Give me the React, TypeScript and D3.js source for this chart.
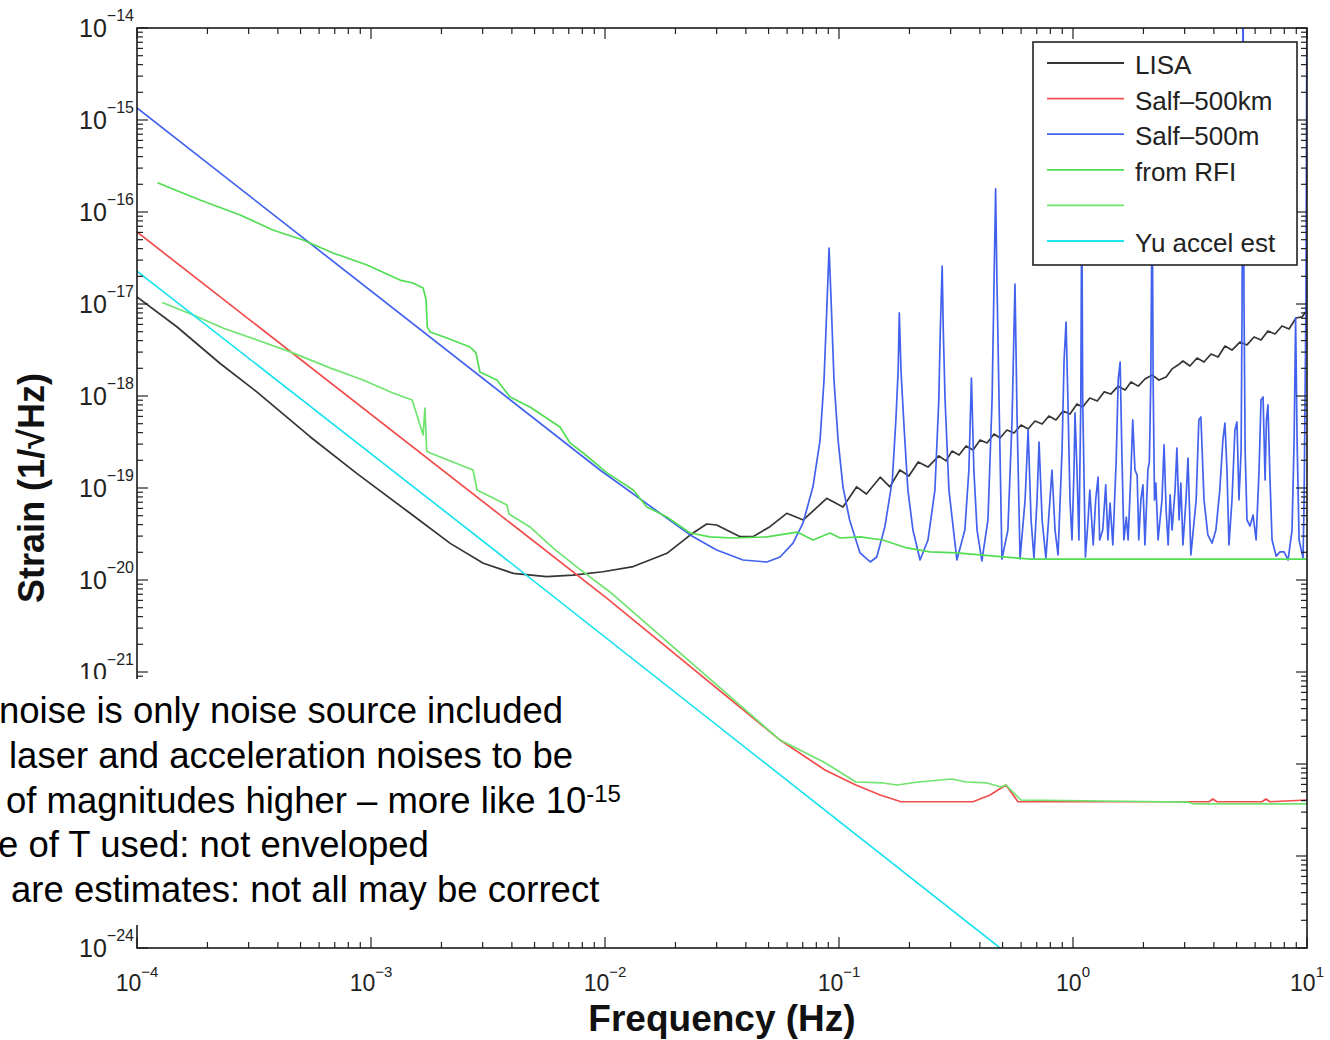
import React from 'react';
import * as d3 from 'd3';

type P = [number, number];

// ---- axis ticks (powers of ten) ----
const xTickExponents = [-4, -3, -2, -1, 0, 1];
// labels for 1e-22 and 1e-23 are hidden under the overlaid note box in the reference
const yTickExponents = [-24, -21, -20, -19, -18, -17, -16, -15, -14];

// ---- series: [frequency (Hz), strain (1/sqrt(Hz))] ----
const lisa: P[] = [
  [1e-4, 1.19e-17], [1.48e-4, 5.66e-18], [2.26e-4, 2.27e-18], [3.25e-4, 1.11e-18],
  [5.49e-4, 3.61e-19], [8.69e-4, 1.44e-19], [1.47e-3, 5.31e-20], [2.18e-3, 2.5e-20],
  [3.02e-3, 1.52e-20], [4.06e-3, 1.18e-20], [5.63e-3, 1.09e-20], [7.3e-3, 1.13e-20],
  [9.8e-3, 1.23e-20], [1.32e-2, 1.4e-20], [1.84e-2, 1.95e-20], [2.31e-2, 3.08e-20],
  [2.72e-2, 4.06e-20], [3.0e-2, 3.96e-20], [3.78e-2, 2.96e-20], [4.29e-2, 2.96e-20],
  [5.07e-2, 3.8e-20], [5.98e-2, 5.31e-20], [7.04e-2, 4.49e-20], [8.86e-2, 7.73e-20],
  [0.104, 6.2e-20], [0.119, 1.03e-19], [0.131, 8.6e-20], [0.15, 1.31e-19],
  [0.165, 1.03e-19], [0.182, 1.57e-19], [0.199, 1.35e-19], [0.218, 1.92e-19],
  [0.24, 1.69e-19], [0.267, 2.23e-19], [0.287, 1.97e-19], [0.304, 2.52e-19],
  [0.326, 2.28e-19], [0.349, 2.86e-19], [0.374, 2.59e-19], [0.401, 3.32e-19],
  [0.429, 3.09e-19], [0.46, 3.86e-19], [0.488, 3.49e-19], [0.522, 4.27e-19],
  [0.56, 3.96e-19], [0.6, 4.84e-19], [0.643, 4.38e-19], [0.688, 5.35e-19],
  [0.738, 4.96e-19], [0.789, 6.06e-19], [0.846, 5.49e-19], [0.906, 6.87e-19],
  [0.971, 6.37e-19], [1.04, 8.19e-19], [1.1, 7.6e-19], [1.18, 9.51e-19],
  [1.27, 8.83e-19], [1.36, 1.11e-18], [1.45, 1.05e-18], [1.56, 1.28e-18],
  [1.67, 1.16e-18], [1.77, 1.42e-18], [1.9, 1.28e-18], [2.03, 1.53e-18],
  [2.18, 1.69e-18], [2.33, 1.49e-18], [2.5, 1.61e-18], [2.65, 1.97e-18],
  [2.81, 2.17e-18], [2.95, 2.4e-18], [3.16, 2.12e-18], [3.39, 2.59e-18],
  [3.63, 2.34e-18], [3.89, 2.86e-18], [4.17, 2.65e-18], [4.46, 3.49e-18],
  [4.78, 3.16e-18], [5.17, 3.86e-18], [5.54, 3.59e-18], [5.94, 4.38e-18],
  [6.36, 4.06e-18], [6.81, 5.09e-18], [7.3, 4.72e-18], [7.82, 5.77e-18],
  [8.38, 5.35e-18], [8.98, 7.05e-18], [9.52, 7.23e-18], [10, 8.61e-18],
];

const salf500km: P[] = [
  [1e-4, 6.06e-17], [1.02e-2, 6.32e-21], [5.6e-2, 1.82e-22], [8.71e-2, 8.61e-23],
  [0.118, 5.91e-23], [0.15, 4.6e-23], [0.184, 3.89e-23], [0.374, 3.89e-23],
  [0.442, 4.6e-23], [0.517, 5.91e-23], [0.582, 3.89e-23], [3.81, 3.89e-23],
  [3.96, 4.17e-23], [4.12, 3.89e-23], [6.42, 3.89e-23], [6.68, 4.17e-23],
  [6.95, 3.89e-23], [10, 4.06e-23],
];

const salf500m: P[] = [
  [1e-4, 1.35e-15], [9.52e-3, 1.57e-19], [2.31e-2, 3.09e-20], [3.0e-2, 2.12e-20],
  [3.89e-2, 1.65e-20], [4.92e-2, 1.57e-20], [5.6e-2, 1.78e-20], [6.36e-2, 2.52e-20],
  [7.02e-2, 4.17e-20], [7.74e-2, 1.03e-19], [8.3e-2, 3.32e-19], [8.63e-2, 1.49e-18],
  [8.9e-2, 1.11e-17], [9.07e-2, 4.06e-17], [9.25e-2, 1.11e-17], [9.52e-2, 1.49e-18],
  [9.91e-2, 3.32e-19], [0.104, 1.03e-19], [0.111, 4.49e-20], [0.123, 1.97e-20],
  [0.136, 1.57e-20], [0.145, 1.78e-20], [0.157, 3.77e-20], [0.169, 1.22e-19],
  [0.175, 5.49e-19], [0.179, 1.92e-18], [0.181, 7.99e-18], [0.184, 1.92e-18],
  [0.19, 4.27e-19], [0.197, 9.51e-20], [0.207, 3.49e-20], [0.222, 1.65e-20],
  [0.24, 2.72e-20], [0.257, 9.51e-20], [0.267, 9.05e-19], [0.271, 5.22e-18],
  [0.276, 2.59e-17], [0.279, 5.22e-18], [0.284, 9.05e-19], [0.295, 9.51e-20],
  [0.319, 1.65e-20], [0.345, 3.49e-20], [0.359, 1.57e-19], [0.368, 1.57e-18],
  [0.377, 1.57e-19], [0.389, 3.49e-20], [0.408, 1.61e-20], [0.433, 4.49e-20],
  [0.451, 9.05e-19], [0.46, 1.82e-17], [0.467, 1.78e-16], [0.473, 1.82e-17],
  [0.483, 9.05e-19], [0.497, 1.69e-20], [0.527, 3.49e-20], [0.549, 5.49e-19],
  [0.565, 1.65e-17], [0.577, 5.49e-19], [0.594, 1.69e-20], [0.624, 7.41e-20],
  [0.643, 4.27e-19], [0.662, 4.49e-20], [0.681, 1.73e-20], [0.702, 7.41e-20],
  [0.716, 3.16e-19], [0.738, 4.49e-20], [0.766, 1.73e-20], [0.797, 7.41e-20],
  [0.813, 1.57e-19], [0.838, 3.49e-20], [0.863, 1.87e-20], [0.898, 2.59e-19],
  [0.916, 2.46e-18], [0.934, 6.37e-18], [0.951, 9.05e-19], [0.971, 7.41e-20],
  [0.99, 2.72e-20], [1.01, 1.57e-19], [1.02, 6.54e-19], [1.04, 1.57e-19],
  [1.06, 2.72e-20], [1.08, 9.05e-19], [1.09, 2.0e-16], [1.1, 9.05e-19],
  [1.13, 1.78e-20], [1.16, 4.49e-20], [1.18, 9.51e-20], [1.22, 2.4e-20],
  [1.25, 7.41e-20], [1.28, 1.31e-19], [1.3, 2.72e-20], [1.34, 3.49e-20],
  [1.38, 1.08e-19], [1.41, 2.72e-20], [1.44, 6.87e-20], [1.48, 2.4e-20],
  [1.53, 2.02e-19], [1.56, 1.49e-18], [1.59, 2.34e-18], [1.62, 2.02e-19],
  [1.65, 2.72e-20], [1.69, 4.84e-20], [1.72, 2.72e-20], [1.77, 1.57e-19],
  [1.8, 5.49e-19], [1.84, 1.57e-19], [1.88, 1.38e-19], [1.91, 2.72e-20],
  [1.95, 7.41e-20], [1.99, 1.08e-19], [2.03, 2.4e-20], [2.09, 1.57e-19],
  [2.12, 1.92e-19], [2.15, 1.49e-18], [2.18, 2.0e-16], [2.2, 1.49e-18],
  [2.23, 7.41e-20], [2.26, 1.13e-19], [2.31, 2.72e-20], [2.4, 7.41e-20],
  [2.45, 2.94e-19], [2.5, 5.77e-20], [2.55, 2.4e-20], [2.6, 8.41e-20],
  [2.65, 3.49e-20], [2.73, 9.51e-20], [2.78, 2.72e-19], [2.84, 4.49e-20],
  [2.89, 1.13e-19], [2.95, 2.4e-20], [3.04, 7.41e-20], [3.1, 2.12e-19],
  [3.19, 1.87e-20], [3.36, 7.41e-20], [3.45, 5.49e-19], [3.52, 5.91e-19],
  [3.63, 7.41e-20], [3.77, 3.09e-20], [3.93, 2.52e-20], [4.08, 3.49e-20],
  [4.24, 9.51e-20], [4.37, 3.32e-19], [4.46, 5.09e-19], [4.55, 1.57e-19],
  [4.64, 2.4e-20], [4.78, 7.41e-20], [4.92, 4.27e-19], [5.02, 5.22e-19],
  [5.12, 7.41e-20], [5.23, 2.59e-19], [5.28, 1.11e-17], [5.33, 3e-14],
  [5.38, 1.11e-17], [5.44, 2.59e-19], [5.54, 4.49e-20], [5.71, 3.86e-20],
  [5.88, 5.09e-20], [6.06, 2.72e-20], [6.24, 1.57e-19], [6.36, 9.05e-19],
  [6.49, 9.75e-19], [6.62, 1.22e-19], [6.71, 5.49e-19], [6.81, 7.99e-19],
  [6.95, 1.22e-19], [7.09, 2.72e-20], [7.38, 1.82e-20], [7.67, 2.02e-20],
  [7.98, 2.02e-20], [8.3, 1.65e-20], [8.63, 3.49e-20], [8.81, 3.32e-19],
  [8.94, 7.05e-18], [9.07, 3.32e-19], [9.25, 2.72e-20], [9.62, 1.73e-20],
  [9.72, 7.41e-20], [9.9, 1.11e-17], [10, 3e-14],
];

const rfiUpper: P[] = [
  [1.23e-4, 2.07e-16], [1.86e-4, 1.35e-16], [2.76e-4, 9.28e-17], [3.81e-4, 6.37e-17],
  [5.12e-4, 4.96e-17], [6.88e-4, 3.59e-17], [9.62e-4, 2.65e-17], [1.33e-3, 1.82e-17],
  [1.51e-3, 1.69e-17], [1.67e-3, 1.49e-17], [1.72e-3, 1.11e-17], [1.74e-3, 5.63e-18],
  [1.79e-3, 4.96e-18], [2.11e-3, 4.27e-18], [2.65e-3, 3.41e-18], [2.81e-3, 2.94e-18],
  [2.86e-3, 2.34e-18], [2.92e-3, 1.82e-18], [3.45e-3, 1.49e-18], [3.93e-3, 9.75e-19],
  [4.78e-3, 7.6e-19], [6.42e-3, 4.6e-19], [7.09e-3, 3.09e-19], [8.07e-3, 2.4e-19],
  [1.02e-2, 1.46e-19], [1.32e-2, 9.51e-20], [1.51e-2, 6.22e-20], [1.84e-2, 4.84e-20],
  [2.31e-2, 3.24e-20], [2.81e-2, 2.94e-20], [3.52e-2, 2.86e-20], [4.92e-2, 2.94e-20],
  [6.62e-2, 3.32e-20], [7.74e-2, 2.72e-20], [9.16e-2, 3.24e-20], [0.101, 2.86e-20],
  [0.123, 2.94e-20], [0.154, 2.72e-20], [0.195, 2.23e-20], [0.245, 2.02e-20],
  [0.319, 1.97e-20], [0.655, 1.69e-20], [10, 1.69e-20],
];

const rfiLower: P[] = [
  [1.29e-4, 1.03e-17], [1.74e-4, 7.6e-18], [2.33e-4, 5.49e-18], [3.26e-4, 4.06e-18],
  [4.64e-4, 2.94e-18], [6.68e-4, 2.02e-18], [9.25e-4, 1.49e-18], [1.24e-3, 1.08e-18],
  [1.5e-3, 9.05e-19], [1.67e-3, 3.77e-19], [1.7e-3, 7.41e-19], [1.73e-3, 2.52e-19],
  [1.79e-3, 2.4e-19], [2.73e-3, 1.57e-19], [2.84e-3, 9.51e-20], [3.81e-3, 6.54e-20],
  [3.89e-3, 5.22e-20], [4.78e-3, 3.77e-20], [5.99e-3, 2.23e-20], [7.59e-3, 1.38e-20],
  [1.05e-2, 7.41e-21], [5.6e-2, 1.82e-22], [8.72e-2, 1.03e-22], [0.118, 6.37e-23],
  [0.154, 6.22e-23], [0.177, 5.91e-23], [0.218, 6.37e-23], [0.304, 6.87e-23],
  [0.349, 6.37e-23], [0.429, 6.22e-23], [0.492, 5.63e-23], [0.517, 5.91e-23],
  [0.599, 4.06e-23], [3.07, 3.86e-23], [3.29, 3.68e-23], [10, 3.68e-23],
];

const yuAccel: P[] = [
  [1e-4, 2.28e-17], [3.23e-3, 2.3e-20], [0.488, 1e-24],
];

const seriesColors = ['#353535', '#f24c4c', '#4262ee', '#52de52', '#6fe46f', '#1fe3ee'];
const legendLabels = ['LISA', 'Salf\u2013500km', 'Salf\u2013500m', 'from RFI', '', 'Yu accel est'];

const noteLines = [
  'noise is only noise source included',
  'laser and acceleration noises to be',
  'of magnitudes higher \u2013 more like 10',
  'e of T used: not enveloped',
  'are estimates: not all may be correct',
];
const noteSuperscript = '-15';

const FONT = "'Liberation Sans', Arial, Helvetica, sans-serif";

export default function App() {
  const L = 137, R = 1307, T = 28, B = 948;
  const x = d3.scaleLog().domain([1e-4, 10]).range([L, R]);
  const y = d3.scaleLog().domain([1e-24, 1e-14]).range([B, T]);
  const line = d3.line<P>().x(d => x(d[0])).y(d => y(d[1]));

  const series = [lisa, salf500km, salf500m, rfiUpper, rfiLower, yuAccel];

  const isMajor = (v: number) => Math.abs(Math.log10(v) - Math.round(Math.log10(v))) < 1e-9;
  const xt = x.ticks();
  const yt = y.ticks(20);
  const sup = (e: number) => (e < 0 ? '\u2212' + Math.abs(e) : String(e));

  const legX = 1033, legY = 42, legW = 264, legH = 223;
  const noteX = [-1, 9, 6, -2, 11];
  const noteBase = [723, 768, 813, 857, 902];

  return (
    <svg width={1330} height={1040} style={{ position: 'absolute', left: 0, top: 0 }} fontFamily={FONT}>
      <rect x={0} y={0} width={1330} height={1040} fill="#fff" />
      <defs>
        <clipPath id="plotClip">
          <rect x={L} y={T} width={R - L} height={B - T} />
        </clipPath>
      </defs>

      <g clipPath="url(#plotClip)">
        {series.map((s, i) => (
          <path key={i} d={line(s) || ''} fill="none" stroke={seriesColors[i]} strokeWidth={1.7}
            strokeLinejoin="round" strokeLinecap="round" />
        ))}
      </g>

      {/* ticks */}
      <g stroke="#222" strokeWidth={1.2}>
        {xt.map((v, i) => {
          const len = isMajor(v) ? 11 : 6;
          const px = x(v);
          return (
            <g key={'xt' + i}>
              <line x1={px} x2={px} y1={B} y2={B - len} />
              <line x1={px} x2={px} y1={T} y2={T + len} />
            </g>
          );
        })}
        {yt.map((v, i) => {
          const len = isMajor(v) ? 11 : 6;
          const py = y(v);
          return (
            <g key={'yt' + i}>
              <line x1={L} x2={L + len} y1={py} y2={py} />
              <line x1={R} x2={R - len} y1={py} y2={py} />
            </g>
          );
        })}
      </g>
      <rect x={L} y={T} width={R - L} height={B - T} fill="none" stroke="#1a1a1a" strokeWidth={1.6} />

      {/* tick labels */}
      {xTickExponents.map(e => (
        <text key={'xl' + e} x={x(Math.pow(10, e))} y={991} textAnchor="middle" fontSize={23} fill="#222">
          <tspan>10</tspan>
          <tspan dy={-14} fontSize={15}>{sup(e)}</tspan>
        </text>
      ))}
      {yTickExponents.map(e => (
        <text key={'yl' + e} x={134} y={y(Math.pow(10, e)) + 9} textAnchor="end" fontSize={25} fill="#222">
          <tspan>10</tspan>
          <tspan dy={-16} fontSize={16}>{sup(e)}</tspan>
        </text>
      ))}

      {/* axis titles */}
      <text x={(L + R) / 2} y={1031} textAnchor="middle" fontSize={37} fontWeight="bold" fill="#111">
        Frequency (Hz)
      </text>
      <text transform={`translate(44, ${(T + B) / 2}) rotate(-90)`} textAnchor="middle" fontSize={36}
        fontWeight="bold" fill="#111">
        Strain (1/{'\u221A'}Hz)
      </text>

      {/* legend */}
      <rect x={legX} y={legY} width={legW} height={legH} fill="#fff" stroke="#222" strokeWidth={1.6} />
      {legendLabels.map((lab, i) => {
        const ly = legY + 21 + i * 35.6;
        return (
          <g key={'lg' + i}>
            <line x1={legX + 14} x2={legX + 91} y1={ly} y2={ly} stroke={seriesColors[i]} strokeWidth={1.8} />
            <text x={legX + 102} y={ly + 11} fontSize={26} fill="#222">{lab}</text>
          </g>
        );
      })}

      {/* overlaid note box */}
      <rect x={0} y={679} width={645} height={246} fill="#fff" />
      {noteLines.map((t, i) => (
        <text key={'n' + i} x={noteX[i]} y={noteBase[i]} fontSize={36.5} fill="#000">
          <tspan>{t}</tspan>
          {i === 2 ? <tspan dy={-11} fontSize={24}>{noteSuperscript}</tspan> : null}
        </text>
      ))}
    </svg>
  );
}
